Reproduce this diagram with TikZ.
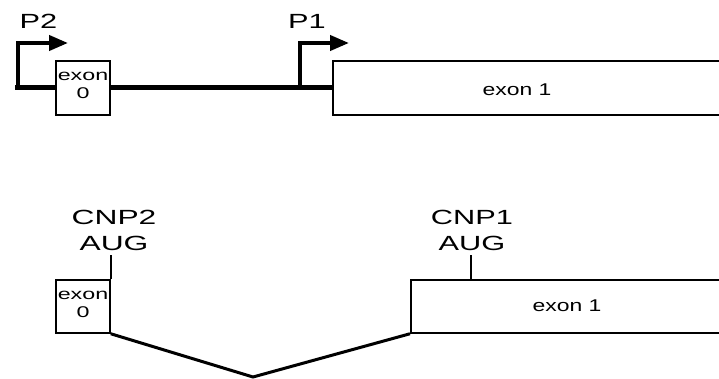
\documentclass[tikz,border=0pt]{standalone}
\usepackage{fontspec}
\setmainfont{Liberation Sans}
\usetikzlibrary{arrows.meta}
\newcommand\wide[2][1.5]{\scalebox{#1}[1]{#2}}
\begin{document}
\begin{tikzpicture}[x=1pt,y=-1pt,
  exbox/.style={draw,line width=1.5pt,inner sep=0pt,minimum height=54pt,fill=white},
  smalltxt/.style={font=\fontsize{15.5}{18}\selectfont,align=center,inner sep=0pt},
  bigtxt/.style={font=\fontsize{20.5}{26}\selectfont,align=center,inner sep=0pt},
  midtxt/.style={font=\fontsize{17}{19}\selectfont,inner sep=0pt},
  gene/.style={line width=5pt,line join=miter},
  prom/.style={line width=4pt,line join=miter,-{Triangle[length=19pt,width=15pt]}},
  splice/.style={line width=3pt,line join=miter},
  tick/.style={line width=1.5pt}]
\useasboundingbox (0,0) rectangle (719,379);
\clip (0,0) rectangle (719,379);
% ---- top: gene structure ----
\node[exbox,minimum width=54pt] (e0t) at (83,88) {};
\node[smalltxt] (e0ttxt) at (83,85) {\wide[1.5]{exon}\\\wide[1.5]{0}};
\node[exbox,minimum width=470pt,anchor=west] (e1t) at (332,88) {};
\node[midtxt] (e1ttxt) at (517,90) {\wide[1.35]{exon 1}};
\coordinate (p2base) at (18,88);
\coordinate (p2top) at (18,43);
\coordinate (p2tip) at (68,43);
\coordinate (p1base) at (300,88);
\coordinate (p1top) at (300,43);
\coordinate (p1tip) at (349,43);
\draw[gene] (e0t.west) -- (15,88);
\draw[gene] (e0t.east) -- (e1t.west);
\draw[prom] (p2base) -- (p2top) -- (p2tip);
\draw[prom] (p1base) -- (p1top) -- (p1tip);
\node[bigtxt] (p2) at (38.5,21) {\wide[1.5]{P2}};
\node[bigtxt] (p1) at (307,21) {\wide[1.5]{P1}};
% ---- bottom: transcripts ----
\node[exbox,minimum width=54pt,minimum height=53pt] (e0b) at (83,306.5) {};
\node[smalltxt] (e0btxt) at (83,304) {\wide[1.5]{exon}\\\wide[1.5]{0}};
\node[exbox,minimum width=400pt,minimum height=53pt,anchor=west] (e1b) at (410,306.5) {};
\node[midtxt] (e1btxt) at (567,306) {\wide[1.35]{exon 1}};
\coordinate (valley) at (253,377);
\draw[splice] (e0b.south east) -- (valley) -- (e1b.south west);
\node[bigtxt] (cnp2) at (114,230) {\wide[1.55]{CNP2}\\\wide[1.55]{AUG}};
\node[bigtxt] (cnp1) at (472,230) {\wide[1.5]{CNP1}\\\wide[1.5]{AUG}};
\coordinate (t2) at (111,255);
\coordinate (t1) at (471,255);
\draw[tick] (t2) -- (t2 |- e0b.north);
\draw[tick] (t1) -- (t1 |- e1b.north);
\end{tikzpicture}
\end{document}
